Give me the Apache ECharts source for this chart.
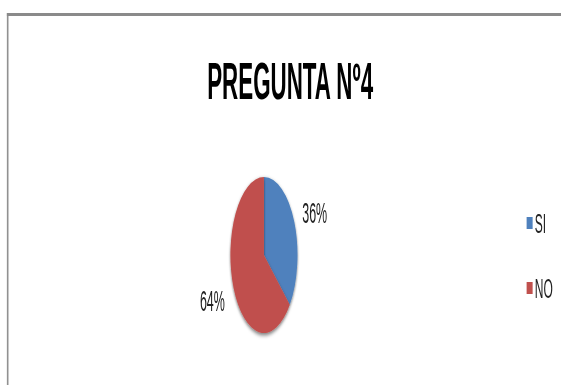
<!DOCTYPE html>
<html>
<head>
<meta charset="utf-8">
<script src="https://cdn.jsdelivr.net/npm/echarts@6/dist/echarts.min.js"></script>
<style>
  html, body { margin: 0; padding: 0; background: #ffffff; overflow: hidden; width: 561px; height: 385px; }
  #chart { width: 1305px; height: 385px; transform: scaleX(0.42989); transform-origin: 0 0; }
</style>
</head>
<body>
<div id="chart"></div>
<script>
// Data
const titleText = 'PREGUNTA Nº4';
const categories = ['SI', 'NO'];
const values = [36, 64];
const colors = ['#4F81BD', '#C0504D'];

const chart = echarts.init(document.getElementById('chart'), null, { renderer: 'svg' });

const pieCenter = [614, 255];
const pieRadius = 78;
// label offsets relative to pie centre (unscaled space)
const labelOffsets = [[118, -42], [-120, 46]];

const option = {
  backgroundColor: '#ffffff',
  animation: false,
  title: {
    text: titleText,
    left: 482,
    top: 55,
    padding: 0,
    textStyle: {
      fontFamily: 'Liberation Sans',
      fontWeight: 'bold',
      fontSize: 52,
      color: '#000000'
    }
  },
  legend: {
    orient: 'vertical',
    left: 1225,
    top: 209,
    padding: 0,
    itemWidth: 14,
    itemHeight: 12,
    itemGap: 37,
    icon: 'rect',
    data: categories,
    textStyle: {
      fontFamily: 'Liberation Sans',
      fontSize: 28,
      lineHeight: 28,
      color: '#222222'
    }
  },
  graphic: [
    { type: 'rect', silent: true, shape: { x: 16, y: 13, width: 1300, height: 3 }, style: { fill: '#8a8a8a' } },
    { type: 'rect', silent: true, shape: { x: 16, y: 13, width: 2.5, height: 380 }, style: { fill: '#8a8a8a' } },
    { type: 'rect', silent: true, shape: { x: 18.5, y: 16, width: 2.5, height: 380 }, style: { fill: '#c8c8c8' } }
  ],
  series: [{
    type: 'pie',
    center: pieCenter,
    radius: [0, pieRadius],
    startAngle: 90,
    clockwise: true,
    data: categories.map((c, i) => ({ name: c, value: values[i], itemStyle: { color: colors[i] } })),
    itemStyle: {
      borderWidth: 0,
      shadowColor: 'rgba(0,0,0,0.55)',
      shadowBlur: 4,
      shadowOffsetY: 2
    },
    emphasis: { disabled: true },
    label: {
      show: true,
      position: 'outside',
      formatter: '{d}%',
      fontFamily: 'Liberation Sans',
      fontSize: 29,
      color: '#222222'
    },
    labelLine: { show: false },
    labelLayout: function (params) {
      const o = labelOffsets[params.dataIndex];
      return {
        x: pieCenter[0] + o[0],
        y: pieCenter[1] + o[1],
        align: 'center',
        verticalAlign: 'middle'
      };
    }
  }]
};

chart.setOption(option);
</script>
</body>
</html>
